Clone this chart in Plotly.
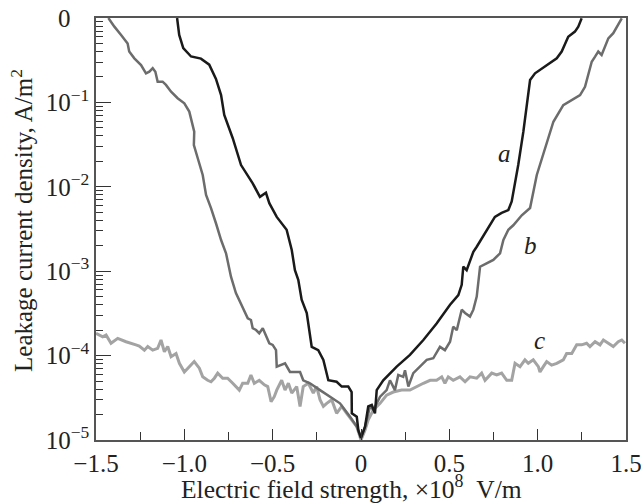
import math
import plotly.graph_objects as go

# Curve a (black)
a_x = [-1.041, -1.029, -1.006, -0.962, -0.906, -0.859, -0.821, -0.792, -0.774, -0.726,
       -0.679, -0.613, -0.572, -0.538, -0.519, -0.477, -0.421, -0.392, -0.374, -0.355,
       -0.336, -0.307, -0.279, -0.242, -0.213, -0.185, -0.138, -0.109, -0.072, -0.053,
       -0.052, -0.024, -0.015, 0.0,
       0.023, 0.041, 0.061, 0.079, 0.089, 0.126, 0.202, 0.277, 0.353, 0.428,
       0.504, 0.551, 0.570, 0.579, 0.598, 0.617, 0.636, 0.655, 0.683, 0.711,
       0.740, 0.758, 0.796, 0.834, 0.853, 0.890, 0.919, 0.941, 0.957, 0.985,
       1.051, 1.108, 1.136, 1.155, 1.173, 1.211, 1.230, 1.249]
a_y = [1.0, 0.63, 0.44, 0.35, 0.33, 0.28, 0.19, 0.122, 0.071, 0.0376,
       0.0181, 0.0110, 0.0076, 0.0085, 0.0064, 0.0044, 0.0031, 0.00178, 0.00103, 7.9e-4,
       4.6e-4, 3.2e-4, 1.27e-4, 1.16e-4, 8.9e-5, 5.1e-5, 4.9e-5, 4.3e-5, 4.3e-5, 3.7e-5,
       2.07e-5, 1.89e-5, 1.31e-5, 1.06e-5,
       1.44e-5, 2.5e-5, 2.6e-5, 2.07e-5, 3.9e-5, 5.1e-5, 7.4e-5, 1.02e-4, 1.53e-4, 2.4e-4,
       4.0e-4, 5.2e-4, 6.9e-4, 1.13e-3, 1.03e-3, 1.36e-3, 1.70e-3, 1.95e-3, 2.45e-3, 3.1e-3,
       3.9e-3, 4.4e-3, 4.9e-3, 5.3e-3, 6.7e-3, 0.0181, 0.045, 0.112, 0.184, 0.221,
       0.277, 0.333, 0.40, 0.50, 0.60, 0.69, 0.79, 0.99]

# Curve b (dark grey)
b_x = [-1.430, -1.396, -1.358, -1.321, -1.312, -1.283, -1.245, -1.217, -1.198, -1.179,
       -1.164, -1.151, -1.123, -1.104, -1.075, -1.038, -1.000, -0.972, -0.944, -0.946,
       -0.924, -0.896, -0.877, -0.849, -0.821, -0.792, -0.764, -0.736, -0.708, -0.670,
       -0.641, -0.623, -0.613, -0.594, -0.576, -0.556, -0.538, -0.519, -0.500, -0.481,
       -0.477, -0.458, -0.430, -0.402, -0.345, -0.327, -0.289, -0.232, -0.175, -0.119,
       -0.062, -0.024, 0.0,
       0.023, 0.051, 0.070, 0.108, 0.145, 0.164, 0.192, 0.211, 0.239, 0.249,
       0.268, 0.296, 0.334, 0.372, 0.409, 0.447, 0.475, 0.504, 0.522, 0.542,
       0.570, 0.589, 0.617, 0.636, 0.655, 0.674, 0.711, 0.749, 0.787, 0.806,
       0.834, 0.862, 0.910, 0.957, 0.995, 1.051, 1.089, 1.145, 1.193, 1.240,
       1.268, 1.287, 1.306, 1.325, 1.343, 1.362, 1.381, 1.400, 1.428, 1.456, 1.476]
b_y = [1.0, 0.79, 0.63, 0.50, 0.40, 0.333, 0.277, 0.221, 0.231, 0.254,
       0.231, 0.176, 0.176, 0.161, 0.134, 0.112, 0.0976, 0.0778, 0.045, 0.0313,
       0.0218, 0.0138, 0.0080, 0.0056, 0.0037, 0.00234, 0.00163, 8.6e-4, 5.5e-4, 3.8e-4,
       2.77e-4, 2.64e-4, 2.11e-4, 2.01e-4, 1.84e-4, 2.11e-4, 1.75e-4, 1.40e-4, 1.34e-4, 1.16e-4,
       7.4e-5, 7.7e-5, 8.1e-5, 6.4e-5, 6.4e-5, 5.1e-5, 4.7e-5, 3.9e-5, 3.26e-5, 2.72e-5,
       1.89e-5, 1.44e-5, 1.06e-5,
       1.44e-5, 2.5e-5, 2.27e-5, 3.26e-5, 3.9e-5, 5.1e-5, 3.9e-5, 5.9e-5, 5.6e-5, 6.7e-5,
       4.3e-5, 6.2e-5, 7.4e-5, 8.9e-5, 9.3e-5, 1.27e-4, 1.16e-4, 1.46e-4, 2.2e-4, 2.0e-4,
       3.5e-4, 3.2e-4, 2.9e-4, 3.5e-4, 5.0e-4, 1.13e-3, 1.24e-3, 1.36e-3, 1.63e-3, 2.34e-3,
       3.1e-3, 3.5e-3, 4.6e-3, 5.6e-3, 0.0138, 0.0342, 0.059, 0.093, 0.107, 0.122,
       0.153, 0.211, 0.303, 0.348, 0.40, 0.365, 0.457, 0.574, 0.66, 0.83, 0.99]

# Curve c (light grey)
c_x = [-1.500, -1.481, -1.462, -1.443, -1.415, -1.377, -1.330, -1.274, -1.255, -1.226,
       -1.207, -1.179, -1.151, -1.132, -1.113, -1.094, -1.075, -1.047, -1.028, -1.000,
       -0.972, -0.944, -0.915, -0.896, -0.868, -0.849, -0.830, -0.811, -0.783, -0.755,
       -0.726, -0.689, -0.670, -0.641, -0.623, -0.604, -0.576, -0.547, -0.528, -0.509,
       -0.491, -0.477, -0.449, -0.430, -0.411, -0.392, -0.364, -0.345, -0.327, -0.298,
       -0.270, -0.251, -0.232, -0.213, -0.194, -0.166, -0.138, -0.109, -0.081, -0.053,
       -0.024, 0.0,
       0.023, 0.041, 0.070, 0.108, 0.145, 0.183, 0.230, 0.277, 0.315, 0.353,
       0.391, 0.428, 0.457, 0.475, 0.494, 0.522, 0.560, 0.589, 0.617, 0.655,
       0.683, 0.702, 0.740, 0.768, 0.796, 0.825, 0.853, 0.872, 0.900, 0.928,
       0.947, 0.975, 1.004, 1.013, 1.032, 1.051, 1.079, 1.108, 1.145, 1.164,
       1.193, 1.221, 1.249, 1.277, 1.296, 1.325, 1.353, 1.372, 1.400, 1.428,
       1.456, 1.476, 1.494]
c_y = [1.84e-4, 1.75e-4, 1.67e-4, 1.75e-4, 1.40e-4, 1.60e-4, 1.46e-4, 1.34e-4, 1.30e-4, 1.16e-4,
       1.28e-4, 1.16e-4, 1.22e-4, 1.53e-4, 1.11e-4, 1.28e-4, 9.7e-5, 1.06e-4, 8.1e-5, 6.4e-5,
       7.4e-5, 8.5e-5, 7.1e-5, 5.6e-5, 5.1e-5, 4.9e-5, 5.4e-5, 6.2e-5, 5.4e-5, 5.4e-5,
       4.7e-5, 3.9e-5, 4.7e-5, 4.7e-5, 5.9e-5, 4.7e-5, 5.1e-5, 4.5e-5, 4.3e-5, 2.84e-5,
       3.26e-5, 3.9e-5, 5.1e-5, 3.9e-5, 4.7e-5, 3.6e-5, 4.3e-5, 2.5e-5, 4.3e-5, 4.7e-5,
       3.6e-5, 4.3e-5, 3.0e-5, 2.5e-5, 2.72e-5, 3.0e-5, 2.07e-5, 2.5e-5, 2.07e-5, 1.73e-5,
       1.44e-5, 1.0e-5,
       1.31e-5, 1.73e-5, 2.27e-5, 2.72e-5, 3.4e-5, 3.7e-5, 3.9e-5, 3.9e-5, 4.3e-5, 4.7e-5,
       5.1e-5, 5.1e-5, 5.6e-5, 4.7e-5, 5.6e-5, 5.1e-5, 5.6e-5, 4.9e-5, 5.6e-5, 5.4e-5,
       6.2e-5, 5.1e-5, 6.2e-5, 5.9e-5, 6.2e-5, 5.1e-5, 5.1e-5, 8.1e-5, 7.4e-5, 8.9e-5,
       8.1e-5, 8.9e-5, 7.4e-5, 6.4e-5, 7.4e-5, 8.5e-5, 7.7e-5, 8.1e-5, 8.9e-5, 1.06e-4,
       1.06e-4, 1.34e-4, 1.34e-4, 1.40e-4, 1.28e-4, 1.46e-4, 1.34e-4, 1.53e-4, 1.40e-4, 1.28e-4,
       1.46e-4, 1.53e-4, 1.40e-4]

x_tick_vals = [-1.5, -1.0, -0.5, 0.0, 0.5, 1.0, 1.5]
x_tick_text = ["\u22121.5", "\u22121.0", "\u22120.5", "0", "0.5", "1.0", "1.5"]
y_tick_vals = [1e-5, 1e-4, 1e-3, 1e-2, 1e-1, 1.0]
y_tick_text = ["10<sup>\u22125</sup>", "10<sup>\u22124</sup>", "10<sup>\u22123</sup>",
               "10<sup>\u22122</sup>", "10<sup>\u22121</sup>", "0\u00a0\u00a0\u00a0"]
curve_labels = ["a", "b", "c"]
label_x = [0.815, 0.962, 1.013]
label_y = [0.025, 2.04e-3, 1.53e-4]

FONT = "Liberation Serif"
FS = 25

fig = go.Figure()
fig.add_trace(go.Scatter(x=c_x, y=c_y, mode="lines",
                         line=dict(color="#a3a3a3", width=3), showlegend=False))
fig.add_trace(go.Scatter(x=b_x, y=b_y, mode="lines",
                         line=dict(color="#6c6c6c", width=2.5), showlegend=False))
fig.add_trace(go.Scatter(x=a_x, y=a_y, mode="lines",
                         line=dict(color="#1a1a1a", width=2.5), showlegend=False))

for t, lx, ly in zip(curve_labels, label_x, label_y):
    fig.add_annotation(x=lx, y=math.log10(ly), xref="x", yref="y", text="<i>" + t + "</i>",
                       showarrow=False, font=dict(family=FONT, size=FS, color="#222"))

minor_y = [m * 10 ** e for e in range(-5, 0) for m in range(2, 10)]

fig.update_layout(
    width=641, height=504,
    margin=dict(l=96, r=15, t=18, b=64),
    paper_bgcolor="white", plot_bgcolor="white",
    font=dict(family=FONT, size=FS, color="#222"),
    xaxis=dict(range=[-1.5, 1.5], tickmode="array", tickvals=x_tick_vals, ticktext=x_tick_text,
               ticks="inside", ticklen=11, tickwidth=1, tickcolor="#333",
               minor=dict(tickmode="array", tickvals=[-1.25, -0.75, -0.25, 0.25, 0.75, 1.25],
                          ticks="inside", ticklen=8, tickcolor="#333"),
               showline=True, linecolor="#555", linewidth=1.5, mirror=True, automargin=False,
               ticklabeloverflow="allow",
               showgrid=False, zeroline=False, tickfont=dict(size=FS)),
    yaxis=dict(type="log", range=[-5, 0], tickmode="array", tickvals=y_tick_vals, ticktext=y_tick_text,
               ticks="inside", ticklen=15, tickwidth=1, tickcolor="#333",
               minor=dict(tickmode="array", tickvals=minor_y, ticks="inside", ticklen=7, tickcolor="#333"),
               showline=True, linecolor="#555", linewidth=1.5, mirror=True, automargin=False,
               ticklabeloverflow="allow",
               showgrid=False, zeroline=False, tickfont=dict(size=FS)),
)

fig.add_annotation(x=0.483, y=-0.113, xref="paper", yref="paper", xanchor="center", yanchor="middle",
                   text="Electric field strength, \u00d710<sup>8</sup>\u00a0\u00a0V/m",
                   showarrow=False, font=dict(family=FONT, size=25.5, color="#222"))
fig.add_annotation(x=-0.14, y=0.521, xref="paper", yref="paper", xanchor="center", yanchor="middle",
                   text="Leakage current density, A/m<sup>2</sup>", textangle=-90,
                   showarrow=False, font=dict(family=FONT, size=FS, color="#222"))

fig.write_html("out.html", config={"displayModeBar": False},
               post_script="document.body.style.margin='0px';")
